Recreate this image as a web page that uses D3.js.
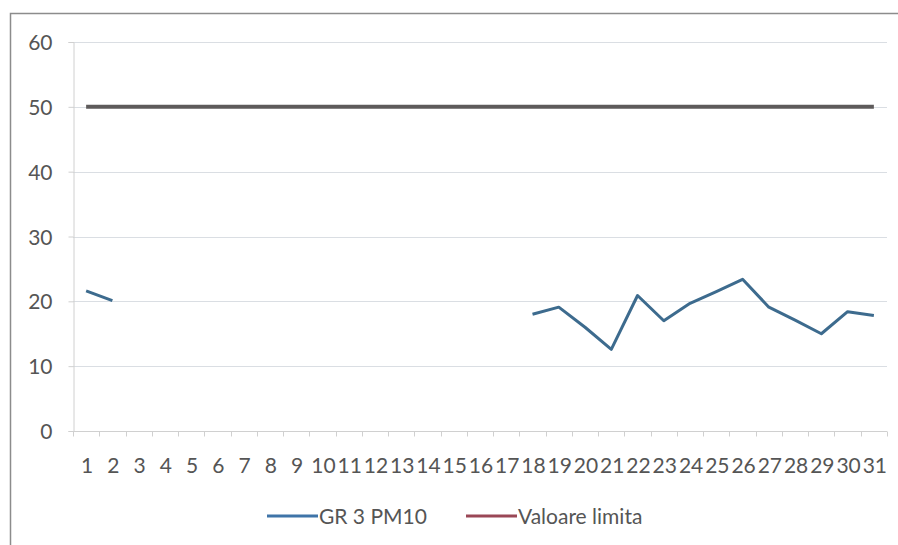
<!DOCTYPE html>
<html>
<head>
<meta charset="utf-8">
<script src="https://cdn.jsdelivr.net/npm/d3@7"></script>
<style>
  html, body { margin: 0; padding: 0; background: #fff; }
  svg { display: block; }
  text { font-family: Lato, "Open Sans", sans-serif; fill: #555; }
</style>
</head>
<body>
<svg id="chart" width="898" height="545"></svg>
<script>
const days = d3.range(1, 32).map(String);
const pm10 = [21.6, 20.1, null, null, null, null, null, null, null, null, null, null, null, null, null, null, null,
              18.0, 19.1, 16.0, 12.6, 20.9, 17.0, 19.7, 21.5, 23.4, 19.1, 17.1, 15.0, 18.4, 17.8];
const limit = days.map(() => 50);
const yTicks = [0, 10, 20, 30, 40, 50, 60];
const seriesNames = ["GR 3 PM10", "Valoare limita"];

const svg = d3.select("#chart");
const W = 898, H = 545;
const m = { left: 73, right: 11, top: 42, bottom: 114 };
const FS = 21;

// outer frame
svg.append("rect").attr("x", 10.5).attr("y", 13.5).attr("width", 900).attr("height", 540)
  .attr("fill", "none").attr("stroke", "#8c8c8c").attr("stroke-width", 1.5);

const x = d3.scaleBand().domain(days).range([m.left, W - m.right]);
const y = d3.scaleLinear().domain([0, 60]).range([H - m.bottom, m.top]);

// gridlines
svg.append("g").selectAll("line").data(yTicks.filter(d => d > 0)).join("line")
  .attr("x1", m.left).attr("x2", W - m.right)
  .attr("y1", d => Math.round(y(d)) + 0.5).attr("y2", d => Math.round(y(d)) + 0.5)
  .attr("stroke", "#dadee3").attr("stroke-width", 1);

// y axis
const yAxis = svg.append("g").attr("transform", `translate(${m.left + 0.5},0)`)
  .call(d3.axisLeft(y).tickValues(yTicks).tickSize(5).tickPadding(16));
yAxis.select(".domain").attr("stroke", "#d0d0d0");
yAxis.selectAll(".tick line").attr("stroke", "#d0d0d0");
yAxis.selectAll(".tick text").attr("font-size", FS).style("fill", "#555").attr("dy", "0.36em");

// x axis
const xAxisG = svg.append("g").attr("transform", `translate(0,${Math.round(y(0)) + 0.5})`);
xAxisG.append("line").attr("x1", m.left).attr("x2", W - m.right).attr("stroke", "#d0d0d0");
xAxisG.selectAll("line.tk").data(days.concat(["end"])).join("line").attr("class", "tk")
  .attr("x1", (d, i) => Math.round(m.left + i * x.step()) + 0.5)
  .attr("x2", (d, i) => Math.round(m.left + i * x.step()) + 0.5)
  .attr("y1", 0).attr("y2", 5).attr("stroke", "#d0d0d0");
xAxisG.selectAll("text").data(days).join("text")
  .attr("x", d => x(d) + x.bandwidth() / 2 + 1)
  .attr("y", 41).attr("text-anchor", "middle").attr("font-size", FS).style("fill", "#555")
  .text(d => d);

// limit line
const lineLimit = d3.line().x((d, i) => x(days[i]) + x.bandwidth() / 2).y(d => y(d));
svg.append("path").datum(limit).attr("d", lineLimit)
  .attr("fill", "none").attr("stroke", "#5e5b5b").attr("stroke-width", 4);

// PM10 line
const linePm = d3.line().defined(d => d != null)
  .x((d, i) => x(days[i]) + x.bandwidth() / 2).y(d => y(d));
svg.append("path").datum(pm10).attr("d", linePm)
  .attr("fill", "none").attr("stroke", "#3d6b8e").attr("stroke-width", 3)
  .attr("stroke-linejoin", "round");

// legend
const legend = svg.append("g").attr("transform", "translate(0,516)");
const legItems = [
  { name: seriesNames[0], color: "#3f74a8", x0: 267 },
  { name: seriesNames[1], color: "#9a4756", x0: 466 }
];
legItems.forEach(it => {
  legend.append("line").attr("x1", it.x0).attr("x2", it.x0 + 51).attr("y1", 0).attr("y2", 0)
    .attr("stroke", it.color).attr("stroke-width", 3);
  legend.append("text").attr("x", it.x0 + 52).attr("y", 7.5).attr("font-size", FS)
    .style("fill", "#555").text(it.name);
});
</script>
</body>
</html>
